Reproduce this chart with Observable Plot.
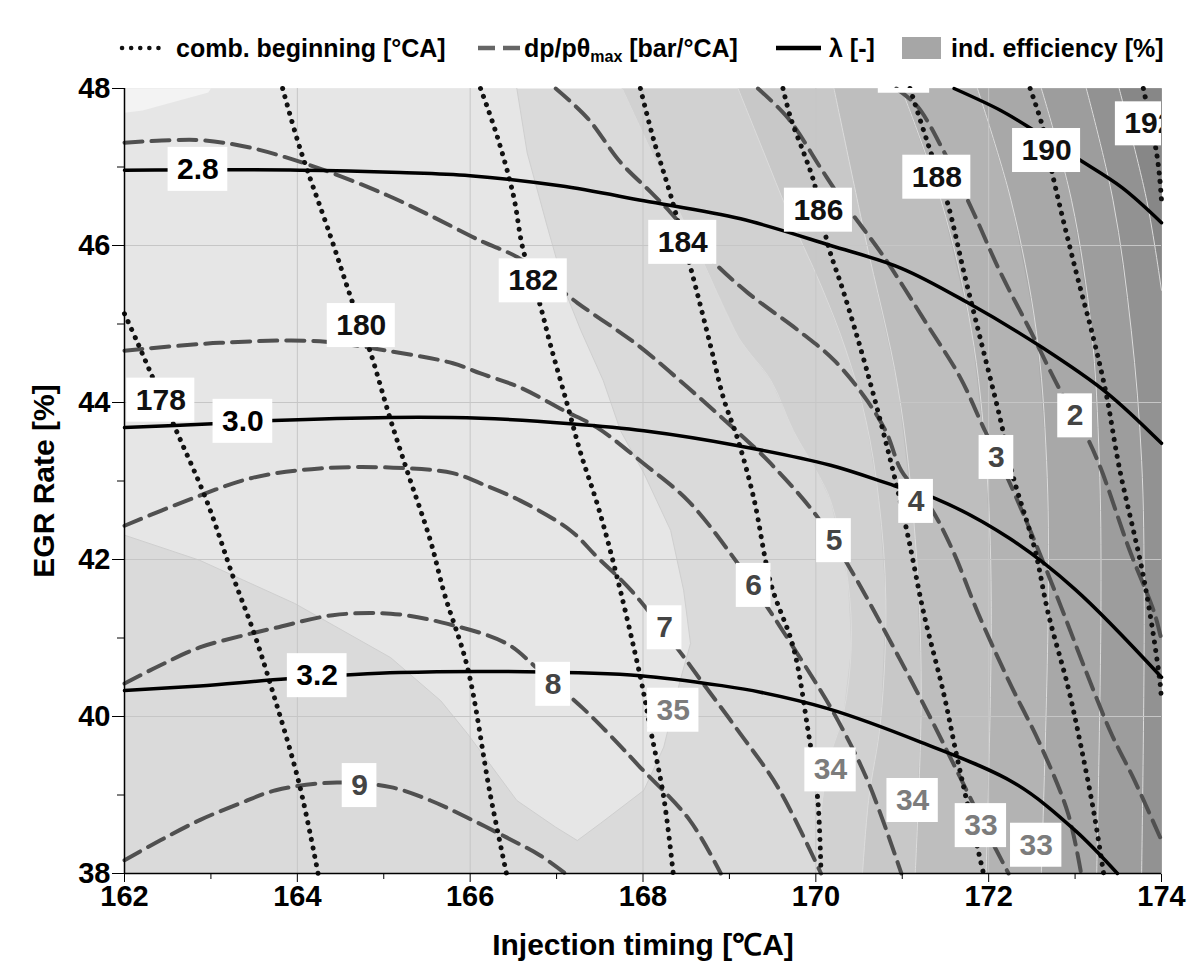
<!DOCTYPE html>
<html><head><meta charset="utf-8">
<script src="https://cdn.jsdelivr.net/npm/d3@7"></script>
<script src="https://cdn.jsdelivr.net/npm/@observablehq/plot@0.6"></script>
<style>
body{margin:0;background:#fff;}
#legend{display:block;}
</style></head><body>
<svg id="legend" width="1198" height="70" font-family="'Liberation Sans',Arial,sans-serif" font-weight="bold" font-size="25">
  <line x1="122" y1="48" x2="166" y2="48" stroke="#111" stroke-width="4.5" stroke-dasharray="0.1 9" stroke-linecap="round"/>
  <text x="176" y="57">comb. beginning [°CA]</text>
  <line x1="478" y1="48" x2="520" y2="48" stroke="#666" stroke-width="4.5" stroke-dasharray="17 8"/>
  <text x="524" y="57">dp/pθ<tspan font-size="16" dy="5">max</tspan><tspan dy="-5"> [bar/°CA]</tspan></text>
  <line x1="776" y1="48" x2="821" y2="48" stroke="#000" stroke-width="4.5"/>
  <text x="829" y="57">λ [-]</text>
  <rect x="902" y="37" width="39" height="22" fill="#a6a6a6"/>
  <text x="951" y="57">ind. efficiency [%]</text>
</svg>
<div id="chart"></div>
<script>
// ---------- axes ----------
const xTicks = [162,164,166,168,170,172,174];
const xMinor = [163,165,167,169,171,173];
const yTicks = [38,40,42,44,46,48];
const yMinor = [39,41,43,45,47];
const xGrid = [164,166,168,170,172];
const yGrid = [40,42,44,46];

// ---------- λ [-] (solid) ----------
const lam26 = [[171.6,48],[172.14,47.72],[172.49,47.49],[173.01,47.12],[173.54,46.74],[174,46.29]];
const lam28 = [[162,46.96],[164.03,46.96],[165.19,46.93],[166,46.89],[167.04,46.76],[168.01,46.57],[169.13,46.34],[170.17,46.00],[170.99,45.71],[171.76,45.27],[172.62,44.70],[173.36,44.13],[174,43.48]];
const lam30 = [[162,43.68],[163.02,43.73],[163.72,43.77],[165.07,43.81],[166.12,43.80],[167.16,43.73],[168.01,43.64],[169.10,43.45],[170.17,43.20],[170.91,42.94],[171.38,42.78],[172.24,42.27],[173.00,41.62],[174,40.50]];
const lam32 = [[162,40.33],[162.87,40.39],[163.89,40.48],[165.18,40.56],[166.64,40.57],[167.97,40.52],[168.93,40.39],[169.36,40.31],[170.14,40.10],[171.22,39.67],[172.30,39.15],[173.00,38.55],[173.49,38]];

// ---------- combustion beginning [°CA] (dotted) ----------
const comb178 = [[162,45.13],[162.14,44.79],[162.29,44.41],[162.60,43.64],[162.95,42.75],[163.26,41.77],[163.50,41.06],[163.70,40.37],[164.02,39.15],[164.24,38]];
const comb180 = [[163.83,48],[164.03,47.24],[164.38,46.13],[164.64,45.27],[164.84,44.66],[165.07,43.81],[165.27,43.13],[165.54,42.24],[165.70,41.57],[165.97,40.62],[166.23,39.02],[166.42,38]];
const comb182 = [[166.12,48],[166.31,47.40],[166.50,46.64],[166.61,45.96],[166.81,45.24],[166.93,44.73],[167.12,43.99],[167.28,43.35],[167.47,42.71],[167.66,41.95],[167.97,40.50],[168.09,39.82],[168.24,38.97],[168.35,38]];
const comb184 = [[167.97,48],[168.12,47.36],[168.32,46.64],[168.55,45.72],[168.78,44.73],[168.93,44.06],[169.10,43.52],[169.28,42.79],[169.48,41.69],[169.74,40.88],[169.91,39.82],[170.02,38.97],[170.06,38]];
const comb186 = [[169.62,48],[169.71,47.62],[169.86,47.18],[169.98,46.80],[170.14,46.01],[170.32,45.41],[170.59,44.41],[170.90,43.10],[171.07,42.28],[171.25,41.31],[171.48,40.29],[171.65,39.40],[171.94,38]];
const comb188 = [[171.09,48],[171.29,47.32],[171.52,46.56],[171.72,45.63],[171.90,44.83],[172.13,43.81],[172.28,43.07],[172.53,42.15],[172.69,41.31],[172.92,40.37],[173.07,39.61],[173.22,38.76],[173.33,38]];
const comb190 = [[172.48,48],[172.63,47.49],[172.75,46.85],[173.01,45.67],[173.21,44.83],[173.36,44.11],[173.51,43.18],[173.80,41.73],[173.98,40.46],[174,40.2]];
const comb192 = [[173.79,48],[173.94,47.20],[173.98,46.85],[174,46.57]];

// ---------- dp/pθ max [bar/°CA] (dashed) ----------
const dp2 = [[170.93,48],[171.17,47.78],[171.48,47.20],[171.82,46.43],[172.13,45.67],[172.48,44.92],[172.83,44.15],[173.10,43.64],[173.29,43.18],[173.62,42.15],[173.92,41.31],[174,40.97]];
const dp3 = [[169.33,48],[169.68,47.62],[170.06,46.98],[170.29,46.60],[170.79,45.85],[171.29,44.99],[171.67,44.32],[171.94,43.68],[172.23,43.01],[172.53,42.24],[172.84,41.39],[173.11,40.62],[173.42,39.78],[173.69,39.18],[174,38.42]];
const dp4 = [[166.99,48],[167.36,47.62],[167.74,47.06],[168.09,46.68],[168.32,46.42],[168.78,45.83],[169.21,45.40],[169.83,44.89],[170.21,44.54],[170.59,44.03],[170.82,43.61],[170.99,43.13],[171.30,42.71],[171.57,42.15],[171.88,41.31],[172.23,40.46],[172.61,39.61],[172.92,38.76],[173.07,38]];
const dp5 = [[162,47.31],[162.52,47.34],[162.90,47.34],[163.48,47.24],[164.26,46.98],[165.04,46.64],[165.54,46.38],[166.12,46.06],[166.58,45.83],[167.24,45.27],[167.94,44.73],[168.52,44.19],[169.01,43.71],[169.48,43.22],[170.02,42.54],[170.41,41.86],[170.90,40.88],[171.30,40.04],[171.65,39.27],[171.99,38.51],[172.23,38]];
const dp6 = [[162,44.66],[163.10,44.76],[164.26,44.78],[165.04,44.66],[165.80,44.50],[166.12,44.37],[166.58,44.19],[167.08,43.90],[167.47,43.68],[168.01,43.22],[168.52,42.75],[169.01,42.08],[169.44,41.39],[169.74,40.88],[170.21,40.04],[170.60,39.18],[170.99,38]];
const dp7 = [[162,42.43],[162.72,42.75],[163.48,43.04],[164.26,43.16],[165.11,43.17],[165.80,43.10],[166.12,42.97],[166.58,42.75],[167.16,42.37],[167.47,42.03],[167.86,41.61],[168.43,40.82],[168.67,40.46],[169.10,39.82],[169.56,39.10],[170.06,38]];
const dp8 = [[162,40.42],[162.41,40.65],[162.87,40.88],[163.33,41.02],[163.75,41.13],[164.41,41.29],[165.08,41.31],[165.74,41.18],[166.42,40.93],[166.77,40.62],[167.30,40.11],[167.62,39.76],[167.97,39.35],[168.54,38.68],[168.90,38]];
const dp9 = [[162,38.17],[162.41,38.42],[162.87,38.68],[163.33,38.89],[163.75,39.06],[164.46,39.16],[165.08,39.10],[165.54,38.93],[165.97,38.71],[166.42,38.46],[166.81,38.23],[167.10,38]];

// ---------- ind. efficiency [%] (filled bands) ----------
const effPocket = [[162,48],[163.0,48],[162.97,47.95],[162.21,47.72],[162,47.69]];
const effBubble = [[162,48],[166.54,48],[166.66,47.18],[166.89,46.25],[167.12,45.36],[167.28,44.92],[167.54,44.28],[167.74,43.64],[168.01,43.10],[168.32,42.37],[168.47,41.61],[168.55,40.93],[168.43,40.46],[168.24,39.61],[168.01,39.06],[167.51,38.64],[167.24,38.42],[166.99,38.59],[166.54,38.93],[165.97,39.78],[165.66,40.20],[165.08,40.75],[163.97,41.44],[162.87,41.99],[162,42.31]];
const effB2 = [[167.76,48],[168.28,46.76],[168.70,45.78],[169.11,44.82],[169.48,44.28],[169.74,43.64],[170.02,43.10],[170.17,42.75],[170.37,41.73],[170.41,40.88],[170.32,40.04],[170.14,39.40],[170.06,38.76],[170.02,38]];
const effB3 = [[169.10,48],[169.40,47.18],[169.68,46.42],[170.06,45.49],[170.35,44.66],[170.58,43.77],[170.73,42.75],[170.81,41.48],[170.75,39.95],[170.61,38.93],[170.54,38]];
const effB4 = [[170.21,48],[170.57,46.11],[170.95,44.19],[171.15,42.27],[171.22,40.33],[171.15,38]];
const effB5 = [[170.99,48],[171.45,46.57],[171.80,44.92],[171.97,43.26],[172.03,41.48],[171.97,38]];
const effB6 = [[171.87,48],[172.26,46.57],[172.55,44.92],[172.67,43.26],[172.69,41.48],[172.61,38]];
const effB7 = [[172.61,48],[172.96,46.57],[173.19,44.92],[173.28,43.26],[173.30,41.48],[173.25,38]];
const effB8 = [[173.13,48],[173.44,46.57],[173.65,44.92],[173.77,43.26],[173.80,41.48],[173.77,38]];
const effB9 = [[173.51,48],[173.83,46.57],[174,45.43]];

// ---------- contour labels: [text, x, y] ----------
const lamLabels = [["2.8",162.85,46.97],["3.0",163.37,43.76],["3.2",164.23,40.52]];
const combLabels = [["178",162.42,44.03],["180",164.74,44.98],["182",166.73,45.55],["184",168.46,46.04],["186",170.03,46.45],["188",171.40,46.87],["190",172.67,47.21],["192",173.86,47.55]];
const dpLabels = [["2",173.00,43.83],["3",172.09,43.30],["4",171.16,42.74],["5",170.21,42.24],["6",169.28,41.67],["7",168.25,41.13],["8",166.96,40.41],["9",164.72,39.12]];
const effLabels = [["35",168.35,40.08],["34",170.17,39.32],["34",171.12,38.93],["33",171.91,38.61],["33",172.55,38.36]];
const cutLabelBox = [["··",171.02,48.22]];   // label box cut by the top edge, text outside the frame

// ---------- styles ----------
const bgColor = "#dadada";
const bubbleColor = "#e6e6e6";
const pocketColor = "#f3f3f3";
const bandColors = ["#d1d1d1","#c8c8c8","#bebebe","#b3b3b3","#a8a8a8","#9d9d9d","#929292","#878787"];
const FONT = "'Liberation Sans', Arial, sans-serif";
const LABEL_SIZE = 30;

const W = 1198, H = 902, ML = 124, MR = 37, MT = 18, MB = 99;
const xPerPx = 12 / (W - ML - MR);
const yPerPx = 10 / (H - MT - MB);

const bandLines = [effB2,effB3,effB4,effB5,effB6,effB7,effB8,effB9];
const bandPolys = bandLines.map(b => b[b.length-1][1] === 38 ? b.concat([[174,38],[174,48]]) : b.concat([[174,48]]));
const px = d => d[0], py = d => d[1];

const polyMarks = [
  Plot.frame({fill: bgColor, stroke: "none"}),
  Plot.line(effBubble, {x: px, y: py, fill: bubbleColor, stroke: "none"}),
  Plot.line(effPocket, {x: px, y: py, fill: pocketColor, stroke: "none"}),
  ...bandPolys.map((p, i) => Plot.line(p, {x: px, y: py, fill: bandColors[i], stroke: "none"})),
  Plot.line(effBubble.slice(1), {x: px, y: py, stroke: "#cfcfcf", strokeWidth: 1}),
  ...bandLines.map(b => Plot.line(b, {x: px, y: py, stroke: "#dcdcdc", strokeWidth: 1, curve: "catmull-rom"}))
];

const dashed = [dp2,dp3,dp4,dp5,dp6,dp7,dp8,dp9].map(d => Plot.line(d, {x: px, y: py, stroke: "#505050", strokeWidth: 4, strokeDasharray: "18 9", curve: "catmull-rom"}));
const dotted = [comb178,comb180,comb182,comb184,comb186,comb188,comb190,comb192].map(d => Plot.line(d, {x: px, y: py, stroke: "#111", strokeWidth: 5, strokeDasharray: "0.1 8.5", strokeLinecap: "round", curve: "catmull-rom"}));
const solid = [lam26,lam28,lam30,lam32].map(d => Plot.line(d, {x: px, y: py, stroke: "#000", strokeWidth: 3.5, curve: "catmull-rom"}));

// white label boxes, sized from the label text (bold sans widths)
const charW = c => (c === "." ? 0.278 : 0.556) * LABEL_SIZE;
const boxOf = ([t, x, y]) => {
  const w = [...t].reduce((s, c) => s + charW(c), 0) + 18;
  const h = 44;
  return {x1: x - w / 2 * xPerPx, x2: x + w / 2 * xPerPx, y1: y - h / 2 * yPerPx, y2: y + h / 2 * yPerPx};
};
const allLabels = [...lamLabels, ...combLabels, ...dpLabels, ...effLabels, ...cutLabelBox];
const labelBoxes = allLabels.map(boxOf);

const labelMark = (data, color) => Plot.text(data, {x: d => d[1], y: d => d[2], text: d => d[0], fill: color, fontSize: LABEL_SIZE, fontWeight: "bold", clip: true});

const chart = Plot.plot({
  width: W, height: H,
  marginLeft: ML, marginRight: MR, marginTop: MT, marginBottom: MB,
  style: {fontFamily: FONT, fontSize: "29px", fontWeight: "bold", color: "#000", background: "#fff"},
  x: {domain: [162, 174], ticks: xTicks, tickSize: 9, tickPadding: 3, label: null},
  y: {domain: [38, 48], ticks: yTicks, tickSize: 12, tickPadding: 2, label: null},
  marks: [
    ...polyMarks,
    Plot.ruleX(xGrid, {stroke: "#c6c6c6", strokeWidth: 1}),
    Plot.ruleY(yGrid, {stroke: "#c6c6c6", strokeWidth: 1}),
    ...dashed,
    ...dotted,
    ...solid,
    Plot.rect(labelBoxes, {x1: "x1", x2: "x2", y1: "y1", y2: "y2", fill: "#fff", clip: true}),
    labelMark(lamLabels, "#000"),
    labelMark(combLabels, "#111"),
    labelMark(dpLabels, "#444"),
    labelMark(effLabels, "#7c7c7c"),
    Plot.ruleX([162], {stroke: "#000", strokeWidth: 1.5}),
    Plot.ruleY([38], {stroke: "#000", strokeWidth: 1.5}),
    Plot.ruleY(yMinor, {x1: 162 - 7 * xPerPx, x2: 162, stroke: "#000", strokeWidth: 1}),
    Plot.ruleX(xMinor, {y1: 38 - 6 * yPerPx, y2: 38, stroke: "#000", strokeWidth: 1}),
    Plot.text(["EGR Rate [%]"], {text: d => d, frameAnchor: "left", textAnchor: "middle", lineAnchor: "middle", dx: -80, rotate: -90, fontSize: 30, fontWeight: "bold"}),
    Plot.text(["Injection timing [℃A]"], {text: d => d, frameAnchor: "bottom", textAnchor: "middle", lineAnchor: "middle", dy: 72, fontSize: 30, fontWeight: "bold"})
  ]
});
document.getElementById("chart").append(chart);
</script>
</body></html>
